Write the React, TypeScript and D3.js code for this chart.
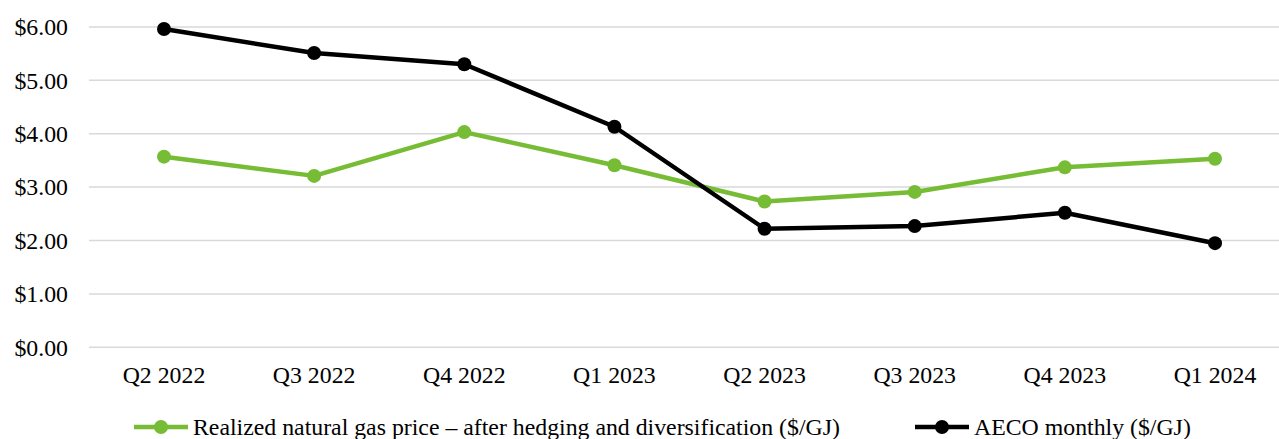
import React from 'react';
import * as d3 from 'd3';

const quarters = ['Q2 2022', 'Q3 2022', 'Q4 2022', 'Q1 2023', 'Q2 2023', 'Q3 2023', 'Q4 2023', 'Q1 2024'];
const realizedPrice = [3.57, 3.21, 4.03, 3.41, 2.73, 2.91, 3.37, 3.53];
const aecoMonthly = [5.96, 5.51, 5.30, 4.13, 2.22, 2.27, 2.52, 1.95];
const yTicks = [0, 1, 2, 3, 4, 5, 6];
const seriesNames = ['Realized natural gas price – after hedging and diversification ($/GJ)', 'AECO monthly ($/GJ)'];

const GREEN = '#77bc35';
const BLACK = '#000000';
const FONT = "'Liberation Serif', 'Times New Roman', Times, serif";

const width = 1279;
const height = 439;

const App = () => {
  const x = d3.scalePoint<string>().domain(quarters).range([164, 1215]);
  const y = d3.scaleLinear().domain([0, 6]).range([347.3, 26.9]);

  const line = d3
    .line<number>()
    .x((_, i) => x(quarters[i]) as number)
    .y((d) => y(d));

  const series = [
    { name: seriesNames[0], values: realizedPrice, color: GREEN },
    { name: seriesNames[1], values: aecoMonthly, color: BLACK },
  ];

  const legendItems = [
    { name: seriesNames[0], color: GREEN, x0: 134 },
    { name: seriesNames[1], color: BLACK, x0: 915 },
  ];

  const txt = { fontFamily: FONT, fontSize: 23.8 };

  return (
    <svg
      width={width}
      height={height}
      style={{ position: 'absolute', left: 0, top: 0, background: '#fff', fontFamily: FONT }}
    >
      {/* grid */}
      {yTicks.map((t) => (
        <g key={t}>
          <line x1={89} x2={width} y1={y(t)} y2={y(t)} stroke="#d9d9d9" strokeWidth={1.5} />
          <text x={68} y={y(t)} dy="0.35em" textAnchor="end" style={txt} fill="#000">
            {d3.format('$.2f')(t)}
          </text>
        </g>
      ))}

      {/* x labels */}
      {quarters.map((q) => (
        <text key={q} x={x(q)} y={383} textAnchor="middle" style={txt} fill="#000">
          {q}
        </text>
      ))}

      {/* lines */}
      {series.map((s) => (
        <g key={s.name}>
          <path d={line(s.values) ?? ''} fill="none" stroke={s.color} strokeWidth={4.5} strokeLinejoin="round" />
          {s.values.map((v, i) => (
            <circle key={i} cx={x(quarters[i])} cy={y(v)} r={7} fill={s.color} />
          ))}
        </g>
      ))}

      {/* legend */}
      {legendItems.map((l) => (
        <g key={l.name}>
          <line x1={l.x0} x2={l.x0 + 54} y1={427} y2={427} stroke={l.color} strokeWidth={4.5} />
          <circle cx={l.x0 + 27} cy={427} r={7} fill={l.color} />
          <text x={l.x0 + 59} y={435} style={txt} fill="#000">
            {l.name}
          </text>
        </g>
      ))}
    </svg>
  );
};

export default App;
